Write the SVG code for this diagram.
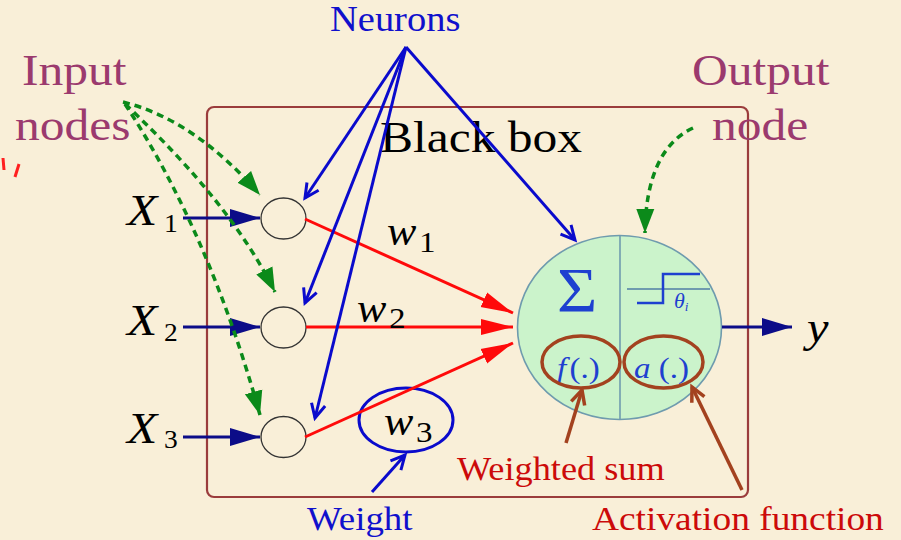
<svg xmlns="http://www.w3.org/2000/svg" width="901" height="540" viewBox="0 0 901 540">
<defs>
<style>
text{font-family:"Liberation Serif","Times New Roman",serif}
.it{font-style:italic}
.blue{stroke:#0A0ACC;stroke-width:3;fill:none}
.navy{stroke:#0C0C88;stroke-width:3;fill:none}
.red{stroke:#FF0A0A;stroke-width:3;fill:none}
.green{stroke:#0B8A1A;stroke-width:3.5;fill:none;stroke-dasharray:7 5}
.brown{stroke:#A3421F;stroke-width:3.5;fill:none}
.lbl{fill:#9B3A6E;font-size:45px}
</style>
<marker id="mNavy" markerUnits="userSpaceOnUse" markerWidth="30" markerHeight="18" refX="30" refY="9" orient="auto"><path d="M0,0 L30,9 L0,18 z" fill="#0C0C88"/></marker>
<marker id="mRed" markerUnits="userSpaceOnUse" markerWidth="32" markerHeight="18" refX="32" refY="9" orient="auto"><path d="M0,1 L32,9 L0,17 z" fill="#FF0A0A"/></marker>
<marker id="mBlue" markerUnits="userSpaceOnUse" markerWidth="20" markerHeight="20" refX="16" refY="10" orient="auto"><path d="M2,3 L16,10 L2,17" fill="none" stroke="#0A0ACC" stroke-width="3"/></marker>
<marker id="mBrown" markerUnits="userSpaceOnUse" markerWidth="20" markerHeight="20" refX="16" refY="10" orient="auto"><path d="M2,3 L16,10 L2,17" fill="none" stroke="#A3421F" stroke-width="3.5"/></marker>
<marker id="mGreen" markerUnits="userSpaceOnUse" markerWidth="24" markerHeight="20" refX="24" refY="10" orient="auto"><path d="M0,1 L24,10 L0,19 z" fill="#0B8A1A"/></marker>
</defs>
<rect x="0" y="0" width="901" height="540" fill="#F9EFD8"/>
<g id="stray-marks" stroke="#FF2020" stroke-width="3" fill="none">
<path d="M3,158 L4,170"/>
<path d="M19,164 L15,177"/>
</g>
<g id="black-box">
<rect x="207" y="107" width="541" height="390" rx="7" fill="none" stroke="#9B3C3C" stroke-width="2.2"/>
<text transform="translate(380,152) scale(1.1,1)" font-size="45" fill="#000">Black box</text>
</g>
<g id="input-1"><ellipse cx="283.5" cy="218.5" rx="22.5" ry="20.5" fill="none" stroke="#333" stroke-width="1.3"/></g>
<g id="input-2"><ellipse cx="283.5" cy="327.5" rx="22.5" ry="20.5" fill="none" stroke="#333" stroke-width="1.3"/></g>
<g id="input-3"><ellipse cx="283.5" cy="437" rx="22.5" ry="20.5" fill="none" stroke="#333" stroke-width="1.3"/></g>
<g id="label-x1" fill="#000"><text class="it" transform="translate(127,225) scale(1.1,1)" font-size="45">X</text><text transform="translate(164,232) scale(1.1,1)" font-size="25">1</text></g>
<g id="label-x2" fill="#000"><text class="it" transform="translate(127,335) scale(1.1,1)" font-size="45">X</text><text transform="translate(164,341) scale(1.1,1)" font-size="25">2</text></g>
<g id="label-x3" fill="#000"><text class="it" transform="translate(127,443) scale(1.1,1)" font-size="45">X</text><text transform="translate(164,448) scale(1.1,1)" font-size="25">3</text></g>
<g id="output-node">
<ellipse cx="619.5" cy="327.5" rx="102" ry="92" fill="#CBF3CB" stroke="#6F9BAE" stroke-width="1.6"/>
<line x1="620" y1="235.5" x2="620" y2="419.5" stroke="#6F9BAE" stroke-width="1.6"/>
<text transform="translate(557,312) scale(1.1,1)" font-size="63" fill="#1E40D0">Σ</text>
<line x1="627" y1="289" x2="710" y2="289" stroke="#6F9BAE" stroke-width="1.8"/>
<path d="M637,303 L663,303 L663,274 L700,274" fill="none" stroke="#1E40D0" stroke-width="2.5"/>
<text class="it" transform="translate(674,308) scale(1.1,1)" font-size="20" fill="#1E40D0">θ<tspan font-size="12" dy="3">i</tspan></text>
<text transform="translate(557,378) scale(1.1,1)" font-size="30" fill="#1E40D0"><tspan class="it">f</tspan><tspan dx="3">(.)</tspan></text>
<text transform="translate(634,378) scale(1.1,1)" font-size="30" fill="#1E40D0"><tspan class="it">a</tspan> (.)</text>
<ellipse cx="581" cy="362" rx="39" ry="26" class="brown"/>
<ellipse cx="663.5" cy="362" rx="39.5" ry="26" class="brown"/>
</g>
<g id="weight-w3"><ellipse cx="406" cy="420" rx="47" ry="32" fill="none" stroke="#0A0ACC" stroke-width="3"/></g>
<g id="connectors">
<line class="navy" x1="183" y1="218" x2="260" y2="218" marker-end="url(#mNavy)"/>
<line class="navy" x1="183" y1="327" x2="260" y2="327" marker-end="url(#mNavy)"/>
<line class="navy" x1="183" y1="437" x2="260" y2="437" marker-end="url(#mNavy)"/>
<line class="red" x1="305" y1="219" x2="513" y2="313" marker-end="url(#mRed)"/>
<line class="red" x1="306" y1="327" x2="513" y2="327" marker-end="url(#mRed)"/>
<line class="red" x1="305" y1="437" x2="513" y2="343" marker-end="url(#mRed)"/>
<line class="navy" x1="722" y1="327" x2="792" y2="327" marker-end="url(#mNavy)"/>
<line class="blue" x1="406" y1="47" x2="305" y2="198" marker-end="url(#mBlue)"/>
<line class="blue" x1="406" y1="47" x2="305" y2="303" marker-end="url(#mBlue)"/>
<line class="blue" x1="406" y1="47" x2="315" y2="418" marker-end="url(#mBlue)"/>
<line class="blue" x1="406" y1="47" x2="575" y2="240" marker-end="url(#mBlue)"/>
<line class="blue" x1="372" y1="492" x2="405" y2="455" marker-end="url(#mBlue)"/>
<line class="brown" x1="566" y1="443" x2="582" y2="390" marker-end="url(#mBrown)"/>
<line class="brown" x1="742" y1="490" x2="692" y2="387" marker-end="url(#mBrown)"/>
<path class="green" d="M123,102 Q195,120 260,195" marker-end="url(#mGreen)"/>
<path class="green" d="M125,104 Q231,203 275,292" marker-end="url(#mGreen)"/>
<path class="green" d="M125,104 Q209,232 260,415" marker-end="url(#mGreen)"/>
<path class="green" d="M693,128 Q646,150 645,233" marker-end="url(#mGreen)"/>
</g>
<g id="labels">
<text transform="translate(330,31) scale(1.1,1)" font-size="35" fill="#1010CC">Neurons</text>
<text class="lbl" transform="translate(22,85) scale(1.1,1)">Input</text>
<text class="lbl" transform="translate(15,140) scale(1.1,1)">nodes</text>
<text class="lbl" transform="translate(692,85) scale(1.1,1)">Output</text>
<text class="lbl" transform="translate(712,140) scale(1.1,1)">node</text>
<text class="it" transform="translate(387,245) scale(1.1,1)" font-size="40" fill="#000">w</text><text transform="translate(419,252) scale(1.1,1)" font-size="30" fill="#000">1</text>
<text class="it" transform="translate(357,322) scale(1.1,1)" font-size="40" fill="#000">w</text><text transform="translate(389,328) scale(1.1,1)" font-size="30" fill="#000">2</text>
<text class="it" transform="translate(384,435) scale(1.1,1)" font-size="40" fill="#000">w</text><text transform="translate(416,442) scale(1.1,1)" font-size="30" fill="#000">3</text>
<text class="it" transform="translate(807,342) scale(1.1,1)" font-size="44" fill="#000">y</text>
<text transform="translate(307,530) scale(1.1,1)" font-size="33.5" fill="#1010CC">Weight</text>
<text transform="translate(457,480) scale(1.1,1)" font-size="33" fill="#CC0A0A">Weighted sum</text>
<text transform="translate(592,530) scale(1.1,1)" font-size="34" fill="#CC0A0A">Activation function</text>
</g>
</svg>
